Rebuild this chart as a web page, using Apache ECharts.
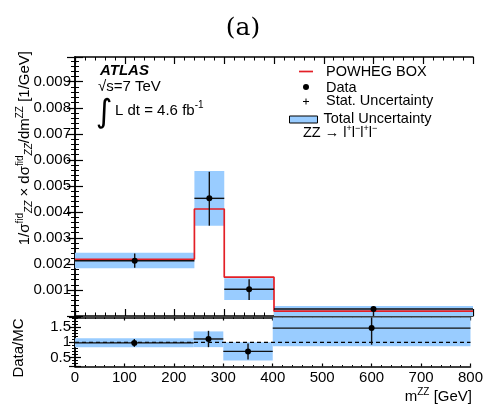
<!DOCTYPE html>
<html>
<head>
<meta charset="utf-8">
<script src="https://cdn.jsdelivr.net/npm/echarts@6/dist/echarts.min.js"></script>
<style>
  html, body { margin: 0; padding: 0; background: #fff; }
  #chart { width: 486px; height: 409px; }
</style>
</head>
<body>
<div id="chart"></div>
<script>
// bins in m^ZZ [GeV]
var binLo = [0, 240, 300, 400]
var binHi = [240, 300, 400, 800]
var binCenter = [120, 270, 350, 600]

// top panel: normalised differential cross section [1/GeV]
var mcVal = [0.00218, 0.00411, 0.00149, 0.00019]
var dataVal = [0.00212, 0.00452, 0.00103, 0.00027]
var statLo = [0.00185, 0.00347, 0.00061, 0.0]
var statHi = [0.00240, 0.00554, 0.00141, 0.00036]
var totLo = [0.00183, 0.00347, 0.00061, 0.0]
var totHi = [0.00243, 0.00557, 0.00145, 0.00038]

// bottom panel: Data/MC
var ratioVal = [0.98, 1.11, 0.70, 1.47]
var ratioStatLo = [0.85, 0.84, 0.43, 0.92]
var ratioStatHi = [1.11, 1.38, 0.96, 2.3]
var ratioTotLo = [0.84, 0.84, 0.40, 0.87]
var ratioTotHi = [1.13, 1.36, 1.00, 2.4]
var ratioRef = 1

// tick labels
var topTickLabels = ['0.001', '0.002', '0.003', '0.004', '0.005', '0.006', '0.007', '0.008', '0.009']
var ratioTickLabels = ['0.5', '1', '1.5']

var FONT = 'Liberation Sans'
var BAND = '#99ccff'
var RED = '#e31f26'

var chart = echarts.init(document.getElementById('chart'))

// step histogram points for the MC prediction
var mcSteps = binLo.map(function (x, i) { return [x, mcVal[i]] })
mcSteps.push([binHi[binHi.length - 1], mcVal[mcVal.length - 1]])

function bandData(lo, hi) {
  return binLo.map(function (x, i) { return [x, binHi[i], lo[i], hi[i]] })
}
function pointData(val, lo, hi) {
  return binCenter.map(function (c, i) { return [c, val[i], lo[i], hi[i], binLo[i], binHi[i]] })
}

// uncertainty box per bin
function renderBand(params, api) {
  var p0 = api.coord([api.value(0), api.value(3)])
  var p1 = api.coord([api.value(1), api.value(2)])
  var cs = params.coordSys
  var rect = echarts.graphic.clipRectByRect(
    { x: p0[0], y: p0[1], width: p1[0] - p0[0], height: p1[1] - p0[1] },
    { x: cs.x, y: cs.y, width: cs.width, height: cs.height }
  )
  return rect && { type: 'rect', shape: rect, style: { fill: BAND } }
}

// data point with vertical error bar and bin-wide horizontal bar
function renderPoint(params, api) {
  var cs = params.coordSys
  var clampY = function (y) { return Math.min(Math.max(y, cs.y), cs.y + cs.height) }
  var c = api.coord([api.value(0), api.value(1)])
  var lo = api.coord([api.value(0), api.value(2)])
  var hi = api.coord([api.value(0), api.value(3)])
  var l = api.coord([api.value(4), api.value(1)])
  var r = api.coord([api.value(5), api.value(1)])
  var lineStyle = { stroke: '#111', lineWidth: 1.4 }
  return {
    type: 'group',
    children: [
      { type: 'line', shape: { x1: c[0], y1: clampY(lo[1]), x2: c[0], y2: clampY(hi[1]) }, style: lineStyle },
      { type: 'line', shape: { x1: l[0], y1: c[1], x2: r[0], y2: c[1] }, style: lineStyle },
      { type: 'circle', shape: { cx: c[0], cy: c[1], r: 3 }, style: { fill: '#000' } }
    ]
  }
}

function xAxisOf(grid, pos, showLabel, tickLen) {
  return {
    type: 'value',
    gridIndex: grid,
    position: pos,
    min: 0,
    max: 800,
    interval: 100,
    axisLine: { show: true, onZero: false, lineStyle: { color: '#000', width: 1.5 } },
    axisTick: { show: true, inside: true, length: tickLen, lineStyle: { color: '#000', width: 1.2 } },
    minorTick: { show: true, splitNumber: 5, length: tickLen / 2, lineStyle: { color: '#000', width: 1 } },
    axisLabel: { show: showLabel, margin: 4, color: '#000', fontSize: 15, fontFamily: FONT },
    splitLine: { show: false }
  }
}

var option = {
  animation: false,
  title: {
    text: '(a)',
    left: 'center',
    top: 11,
    textStyle: { fontFamily: 'DejaVu Serif', fontWeight: 'normal', fontSize: 25, color: '#000' }
  },
  grid: [
    { left: 75, top: 57, width: 398, height: 259 },
    { left: 75, top: 317.5, width: 398, height: 49 }
  ],
  xAxis: [
    xAxisOf(0, 'bottom', false, 7),
    xAxisOf(0, 'top', false, 7),
    xAxisOf(1, 'bottom', true, 3),
    xAxisOf(1, 'top', false, 3)
  ],
  yAxis: [
    {
      type: 'value', gridIndex: 0, position: 'left',
      min: 0, max: 0.00995, interval: 0.001,
      axisLine: { show: true, lineStyle: { color: '#000', width: 1.5 } },
      axisTick: { show: true, inside: true, length: 8, lineStyle: { color: '#000', width: 1.2 } },
      minorTick: { show: true, splitNumber: 5, length: 4, lineStyle: { color: '#000', width: 1 } },
      axisLabel: {
        margin: 4, color: '#000', fontSize: 15, fontFamily: FONT,
        formatter: function (v) {
          var s = v.toFixed(3)
          return topTickLabels.indexOf(s) >= 0 ? s : ''
        }
      },
      splitLine: { show: false }
    },
    {
      type: 'value', gridIndex: 0, position: 'right',
      min: 0, max: 0.00995, interval: 0.001,
      axisLine: { show: true, lineStyle: { color: '#000', width: 1.5 } },
      axisTick: { show: true, inside: true, length: 8, lineStyle: { color: '#000', width: 1.2 } },
      minorTick: { show: true, splitNumber: 5, length: 4, lineStyle: { color: '#000', width: 1 } },
      axisLabel: { show: false },
      splitLine: { show: false }
    },
    {
      type: 'value', gridIndex: 1, position: 'left',
      min: 0.2, max: 1.82, minInterval: 0.5, maxInterval: 0.5,
      axisLine: { show: true, lineStyle: { color: '#000', width: 1.5 } },
      axisTick: { show: true, inside: true, length: 6, lineStyle: { color: '#000', width: 1.2 } },
      minorTick: { show: true, splitNumber: 5, length: 3, lineStyle: { color: '#000', width: 1 } },
      axisLabel: {
        margin: 4, color: '#000', fontSize: 15, fontFamily: FONT,
        formatter: function (v) {
          var s = String(Math.round(v * 100) / 100)
          return ratioTickLabels.indexOf(s) >= 0 ? s : ''
        }
      },
      splitLine: { show: false }
    },
    {
      type: 'value', gridIndex: 1, position: 'right',
      min: 0.2, max: 1.82, minInterval: 0.5, maxInterval: 0.5,
      axisLine: { show: true, lineStyle: { color: '#000', width: 1.5 } },
      axisTick: { show: true, inside: true, length: 6, lineStyle: { color: '#000', width: 1.2 } },
      minorTick: { show: true, splitNumber: 5, length: 3, lineStyle: { color: '#000', width: 1 } },
      axisLabel: { show: false },
      splitLine: { show: false }
    }
  ],
  series: [
    {
      name: 'Total Uncertainty',
      type: 'custom',
      xAxisIndex: 0, yAxisIndex: 0,
      renderItem: renderBand,
      encode: { x: [0, 1], y: [2, 3] },
      data: bandData(totLo, totHi),
      z: 1
    },
    {
      name: 'POWHEG BOX',
      type: 'line',
      xAxisIndex: 0, yAxisIndex: 0,
      step: 'end',
      symbol: 'none',
      lineStyle: { color: RED, width: 1.7 },
      data: mcSteps,
      z: 2
    },
    {
      name: 'Data',
      type: 'custom',
      xAxisIndex: 0, yAxisIndex: 0,
      renderItem: renderPoint,
      encode: { x: [0, 4, 5], y: [1, 2, 3] },
      data: pointData(dataVal, statLo, statHi),
      z: 3
    },
    {
      name: 'Ratio Uncertainty',
      type: 'custom',
      xAxisIndex: 2, yAxisIndex: 2,
      renderItem: renderBand,
      encode: { x: [0, 1], y: [2, 3] },
      data: bandData(ratioTotLo, ratioTotHi),
      z: 1
    },
    {
      name: 'Reference',
      type: 'line',
      xAxisIndex: 2, yAxisIndex: 2,
      symbol: 'none',
      lineStyle: { color: '#000', width: 1.2, type: [4, 3] },
      data: [[0, ratioRef], [800, ratioRef]],
      z: 2
    },
    {
      name: 'Data/MC',
      type: 'custom',
      xAxisIndex: 2, yAxisIndex: 2,
      renderItem: renderPoint,
      encode: { x: [0, 4, 5], y: [1, 2, 3] },
      data: pointData(ratioVal, ratioStatLo, ratioStatHi),
      z: 3
    }
  ],
  graphic: [
    // y axis titles
    {
      type: 'text', x: 25, y: 51, rotation: Math.PI / 2,
      style: {
        text: '1/σ{sup|fid}{sub|ZZ} × dσ{sup|fid}{sub|ZZ}/dm{sup|ZZ} [1/GeV]',
        align: 'right', verticalAlign: 'middle', textAlign: 'right', textVerticalAlign: 'middle',
        fontFamily: FONT, fontSize: 15, fill: '#000', lineHeight: 19,
        rich: {
          sup: { fontFamily: FONT, fontSize: 10, lineHeight: 10, verticalAlign: 'top' },
          sub: { fontFamily: FONT, fontSize: 10, lineHeight: 10, verticalAlign: 'bottom', fontStyle: 'italic' }
        }
      }
    },
    {
      type: 'text', x: 19, y: 348, rotation: Math.PI / 2,
      style: {
        text: 'Data/MC', align: 'center', verticalAlign: 'middle', textAlign: 'center', textVerticalAlign: 'middle',
        fontFamily: FONT, fontSize: 15, fill: '#000'
      }
    },
    // x axis title
    {
      type: 'text', x: 472, y: 397,
      style: {
        text: 'm{sup|ZZ} [GeV]', align: 'right', verticalAlign: 'middle', textAlign: 'right', textVerticalAlign: 'middle',
        fontFamily: FONT, fontSize: 15, fill: '#000', lineHeight: 20,
        rich: { sup: { fontFamily: FONT, fontSize: 10, lineHeight: 10, verticalAlign: 'top' } }
      }
    },
    // ATLAS label
    {
      type: 'text', x: 100, y: 71,
      style: { text: 'ATLAS', verticalAlign: 'middle', textVerticalAlign: 'middle', fontFamily: FONT, fontSize: 15, fontWeight: 'bold', fontStyle: 'italic', fill: '#000' }
    },
    {
      type: 'text', x: 98, y: 87,
      style: { text: '√s=7 TeV', verticalAlign: 'middle', textVerticalAlign: 'middle', fontFamily: FONT, fontSize: 15, fill: '#000' }
    },
    {
      type: 'text', x: 104, y: 114,
      style: { text: '∫', align: 'center', verticalAlign: 'middle', textAlign: 'center', textVerticalAlign: 'middle', fontFamily: 'DejaVu Sans', fontSize: 32, fill: '#000' }
    },
    {
      type: 'text', x: 115, y: 111,
      style: {
        text: 'L dt = 4.6 fb{sup|-1}', verticalAlign: 'middle', textVerticalAlign: 'middle',
        fontFamily: FONT, fontSize: 15, fill: '#000', lineHeight: 22,
        rich: { sup: { fontFamily: FONT, fontSize: 10, lineHeight: 10, verticalAlign: 'top' } }
      }
    },
    // legend
    { type: 'line', shape: { x1: 299, y1: 71.5, x2: 313, y2: 71.5 }, style: { stroke: RED, lineWidth: 1.7 } },
    { type: 'text', x: 326, y: 71.5, style: { text: 'POWHEG BOX', verticalAlign: 'middle', textVerticalAlign: 'middle', fontFamily: FONT, fontSize: 14.5, fill: '#000' } },
    { type: 'circle', shape: { cx: 306, cy: 87, r: 3 }, style: { fill: '#000' } },
    { type: 'text', x: 326, y: 87.5, style: { text: 'Data', verticalAlign: 'middle', textVerticalAlign: 'middle', fontFamily: FONT, fontSize: 14.5, fill: '#000' } },
    { type: 'line', shape: { x1: 303, y1: 101.5, x2: 309, y2: 101.5 }, style: { stroke: '#000', lineWidth: 1 } },
    { type: 'line', shape: { x1: 306, y1: 98.5, x2: 306, y2: 104.5 }, style: { stroke: '#000', lineWidth: 1 } },
    { type: 'text', x: 326, y: 101, style: { text: 'Stat. Uncertainty', verticalAlign: 'middle', textVerticalAlign: 'middle', fontFamily: FONT, fontSize: 14.5, fill: '#000' } },
    { type: 'rect', shape: { x: 289.5, y: 116, width: 28, height: 7 }, style: { fill: BAND, stroke: '#000', lineWidth: 1 } },
    { type: 'text', x: 323.5, y: 119, style: { text: 'Total Uncertainty', verticalAlign: 'middle', textVerticalAlign: 'middle', fontFamily: FONT, fontSize: 14.5, fill: '#000' } },
    {
      type: 'text', x: 303, y: 133,
      style: {
        text: 'ZZ → l{sup|+}l{sup|−}l{sup|+}l{sup|−}', verticalAlign: 'middle', textVerticalAlign: 'middle',
        fontFamily: FONT, fontSize: 14.5, fill: '#000', lineHeight: 18,
        rich: { sup: { fontFamily: FONT, fontSize: 9, lineHeight: 9, verticalAlign: 'top' } }
      }
    }
  ]
}

chart.setOption(option)
</script>
</body>
</html>
